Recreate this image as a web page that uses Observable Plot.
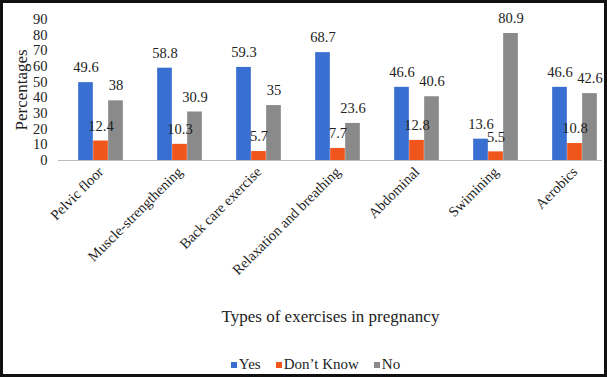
<!DOCTYPE html>
<html>
<head>
<meta charset="utf-8">
<script src="https://cdn.jsdelivr.net/npm/d3@7"></script>
<script src="https://cdn.jsdelivr.net/npm/@observablehq/plot@0.6"></script>
<style>
  html, body { margin: 0; padding: 0; background: #fff; }
  #frame { width: 607px; height: 377px; box-sizing: border-box; border: 3px solid #111; background: #fff; overflow: hidden; font-family: "Liberation Serif", "Times New Roman", serif; }
  #legend { display: flex; justify-content: center; align-items: center; gap: 15px; font-size: 15px; color: #222; margin-top: 13px; padding-left: 24px; line-height: 17px; }
  #legend span.sw { display: inline-block; width: 6px; height: 6px; margin-right: 2px; }
  #legend .item { display: flex; align-items: center; }
</style>
</head>
<body>
<div id="frame"><div id="chart"></div><div id="legend"></div></div>
<script>
const categories = ["Pelvic floor", "Muscle-strengthening", "Back care exercise", "Relaxation and breathing", "Abdominal", "Swimining", "Aerobics"];
const seriesNames = ["Yes", "Don\u2019t Know", "No"];
const yesValues = [49.6, 58.8, 59.3, 68.7, 46.6, 13.6, 46.6];
const dontKnowValues = [12.4, 10.3, 5.7, 7.7, 12.8, 5.5, 10.8];
const noValues = [38, 30.9, 35, 23.6, 40.6, 80.9, 42.6];
const yTicks = [0, 10, 20, 30, 40, 50, 60, 70, 80, 90];
const colors = ["#3a6fd2", "#f0561c", "#8a8a8a"];

const seriesValues = [yesValues, dontKnowValues, noValues];
const offsets = [-15, 0, 15];
const barW = 15;
const step = 79.33;

const marks = [];
seriesValues.forEach((vals, s) => {
  const rows = categories.map((c, i) => ({category: c, value: vals[i]}));
  const inset = (step - barW) / 2;
  marks.push(Plot.barY(rows, {x: "category", y: "value", fill: colors[s], dx: offsets[s], insetLeft: inset, insetRight: inset}));
});
marks.push(Plot.ruleY([0], {stroke: "#bdbdbd", strokeWidth: 1}));
seriesValues.forEach((vals, s) => {
  const rows = categories.map((c, i) => ({category: c, value: vals[i]}));
  marks.push(Plot.text(rows, {x: "category", y: "value", text: d => String(d.value), dx: offsets[s], dy: -15, fontSize: 14.5, fill: "#222"}));
});
marks.push(Plot.axisY({ticks: yTicks, tickSize: 0, tickPadding: 11, fontSize: 14.5, label: null, tickFormat: d => String(d)}));
marks.push(Plot.axisX({tickSize: 0, tickRotate: -45, tickPadding: 9, fontSize: 14.5, label: null}));
marks.push(Plot.text(["Percentages"], {frameAnchor: "left", textAnchor: "middle", dx: -37, rotate: -90, fontSize: 17, fill: "#222"}));
marks.push(Plot.text(["Types of exercises in pregnancy"], {frameAnchor: "bottom", dy: 161, fontSize: 17, fill: "#222"}));

const chart = Plot.plot({
  width: 601,
  height: 340,
  marginLeft: 55,
  marginRight: 2,
  marginTop: 15.7,
  marginBottom: 183,
  style: {fontFamily: "Liberation Serif, Times New Roman, serif", color: "#222", background: "#fff", overflow: "visible"},
  x: {domain: categories, range: [56.8, 56.8 + step * 7], padding: 0, axis: null},
  y: {domain: [0, 90], axis: null},
  marks
});
document.getElementById("chart").appendChild(chart);

const legend = document.getElementById("legend");
seriesNames.forEach((n, i) => {
  const it = document.createElement("div");
  it.className = "item";
  it.innerHTML = `<span class="sw" style="background:${colors[i]}"></span><span>${n}</span>`;
  legend.appendChild(it);
});
</script>
</body>
</html>
